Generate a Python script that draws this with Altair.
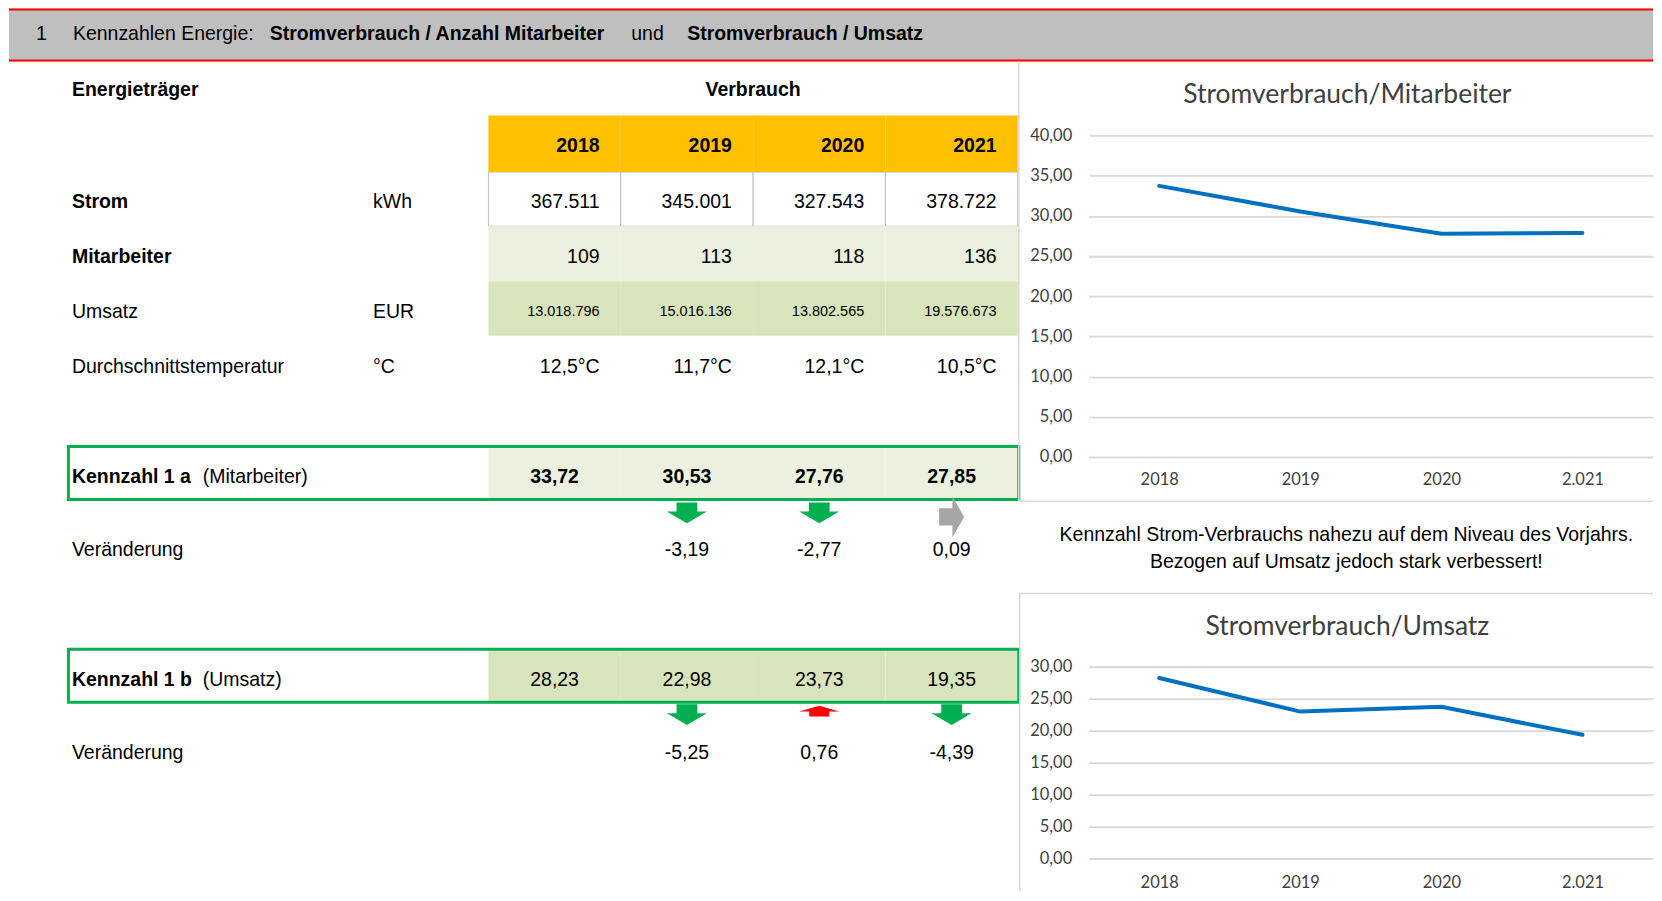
import altair as alt
import pandas as pd

# ---------------- data ----------------
years = ["2018", "2019", "2020", "2021"]
axis_years = ["2018", "2019", "2020", "2.021"]
strom_kwh = [367511, 345001, 327543, 378722]
mitarbeiter = [109, 113, 118, 136]
umsatz_eur = [13018796, 15016136, 13802565, 19576673]
temperatur = [12.5, 11.7, 12.1, 10.5]
kennzahl_1a = [33.72, 30.53, 27.76, 27.85]
kennzahl_1b = [28.23, 22.98, 23.73, 19.35]
veraenderung_1a = [None, -3.19, -2.77, 0.09]
veraenderung_1b = [None, -5.25, 0.76, -4.39]
y_ticks_1a = [0, 5, 10, 15, 20, 25, 30, 35, 40]
y_ticks_1b = [0, 5, 10, 15, 20, 25, 30]

header_parts = ["1", "Kennzahlen Energie:", "Stromverbrauch / Anzahl Mitarbeiter",
                "und", "Stromverbrauch / Umsatz"]
row_labels = ["Strom", "Mitarbeiter", "Umsatz", "Durchschnittstemperatur"]
row_units = ["kWh", "", "EUR", "°C"]
note_lines = ["Kennzahl Strom-Verbrauchs nahezu auf dem Niveau des Vorjahrs.",
              "Bezogen auf Umsatz jedoch stark verbessert!"]
chart_titles = ["Stromverbrauch/Mitarbeiter", "Stromverbrauch/Umsatz"]

# ---------------- styles ----------------
ARIAL = "Liberation Sans"
CAL = "Lato"
FS = 19.5
GREEN = "#00B050"
LIGHT1 = "#EBF1DE"
LIGHT2 = "#D8E4BC"
FRAME = "#D9D9D9"
ONE = pd.DataFrame({"k": [0]})


def de_int(v):
    return f"{v:,}".replace(",", ".")


def de_dec(v, n=2):
    return f"{v:.{n}f}".replace(".", ",")


def txt(text, x, y, size=FS, bold=False, align="left", font=ARIAL, color="#000000"):
    return alt.Chart(ONE).mark_text(
        text=text, align=align, baseline="middle", font=font, fontSize=size,
        fontWeight="bold" if bold else "normal", color=color
    ).encode(x=alt.value(x), y=alt.value(y))


def hrule(x1, x2, y, color, w=1):
    return alt.Chart(ONE).mark_rule(color=color, strokeWidth=w).encode(
        x=alt.value(x1), x2=alt.value(x2), y=alt.value(y))


def vrule(x, y1, y2, color, w=1):
    return alt.Chart(ONE).mark_rule(color=color, strokeWidth=w).encode(
        x=alt.value(x), y=alt.value(y1), y2=alt.value(y2))


def box(x1, x2, y1, y2, fill=None, stroke=None, w=1):
    kw = {}
    if fill is not None:
        kw["fill"] = fill
    else:
        kw["fillOpacity"] = 0
        kw["fill"] = "white"
    if stroke is not None:
        kw["stroke"] = stroke
        kw["strokeWidth"] = w
    return alt.Chart(ONE).mark_rect(**kw).encode(
        x=alt.value(x1), x2=alt.value(x2), y=alt.value(y1), y2=alt.value(y2))


# ---------------- header ----------------
HW, HH = 1646, 53
header_x = [27, 64, 261, 623, 679]
header_bold = [False, False, True, False, True]
header = alt.layer(
    box(0, HW, 0, HH, fill="#BFBFBF"),
    hrule(0, HW, 1, "#FF0000", 2),
    hrule(0, HW, HH - 1, "#FF0000", 2),
    *[txt(t, x, 25.5, bold=b) for t, x, b in zip(header_parts, header_x, header_bold)]
).properties(width=HW, height=HH)

# ---------------- table ----------------
XS = alt.Scale(domain=years, range=[480, 1010], paddingInner=0, paddingOuter=0)


def cells(y1, y2, fill, stroke=None):
    kw = dict(fill=fill)
    if stroke:
        kw.update(stroke=stroke, strokeWidth=1)
    return alt.Chart(pd.DataFrame({"year": years})).mark_rect(**kw).encode(
        x=alt.X("year:N", scale=XS, axis=None), y=alt.value(y1), y2=alt.value(y2))


def row_text(labels, y, pos=0.84, align="right", bold=False, size=FS):
    df = pd.DataFrame({"year": years, "label": labels})
    df = df[df["label"].notna()]
    return alt.Chart(df).mark_text(
        align=align, baseline="middle", font=ARIAL, fontSize=size,
        fontWeight="bold" if bold else "normal", color="#000000"
    ).encode(x=alt.X("year:N", scale=XS, axis=None, bandPosition=pos),
             y=alt.value(y), text="label:N")


ARROWS = {
    "down": ("M-0.52,-0.52 L0.52,-0.52 L0.52,-0.07 L1,-0.07 L0,0.52 L-1,-0.07 L-0.52,-0.07 Z",
             1600, GREEN, 0),
    "up": ("M0,-0.27 L1,0.02 L0.5,0.02 L0.5,0.27 L-0.5,0.27 L-0.5,0.02 L-1,0.02 Z",
           1600, "#FF0000", -3.5),
    "right": ("M-0.61,-0.42 L0.04,-0.42 L0.04,-1 L0.61,0 L0.04,1 L0.04,0.42 L-0.61,0.42 Z",
              1681, "#A6A6A6", 4),
}


def arrow_dir(v):
    if v < 0:
        return "down"
    return "up" if v >= 0.5 else "right"


def arrows(changes, y):
    df = pd.DataFrame({"year": years, "chg": changes})
    df = df[df["chg"].notna()].copy()
    df["dir"] = [arrow_dir(v) for v in df["chg"]]
    layers = []
    for d, (path, size, color, dy) in ARROWS.items():
        if (df["dir"] == d).any():
            layers.append(
                alt.Chart(df).transform_filter(alt.datum.dir == d).mark_point(
                    shape=path, size=size, filled=True, fill=color, strokeWidth=0, opacity=1
                ).encode(x=alt.X("year:N", scale=XS, axis=None, bandPosition=0.5),
                         y=alt.value(y + dy)))
    return layers


LX, UX = 63, 364.5
row_y = [140.5, 195.5, 250.5, 306]
row_bold = [True, True, False, False]
K1A_Y, V1_Y, K1B_Y, V2_Y = 416.5, 489.5, 618.8, 692.5

table = alt.layer(
    cells(110.7, 165, "white", stroke="#BFBFBF"),
    cells(54, 110.7, "#FFC000"),
    cells(165, 220, LIGHT1),
    cells(220, 274.7, LIGHT2),
    cells(385, 439, LIGHT1),
    box(59.5, 1011, 385.5, 438.5, stroke=GREEN, w=3),
    cells(588, 642, LIGHT2),
    box(59.5, 1011, 588.5, 641.5, stroke=GREEN, w=3),
    *arrows(veraenderung_1a, 452),
    *arrows(veraenderung_1b, 654),
    txt("Energieträger", LX, 29, bold=True),
    txt("Verbrauch", 745, 29, bold=True, align="center"),
    row_text(years, 84.5, bold=True),
    *[txt(l, LX, y, bold=b) for l, y, b in zip(row_labels, row_y, row_bold)],
    *[txt(u, UX, y) for u, y in zip(row_units, row_y) if u],
    row_text([de_int(v) for v in strom_kwh], row_y[0]),
    row_text([str(v) for v in mitarbeiter], row_y[1]),
    row_text([de_int(v) for v in umsatz_eur], row_y[2], size=14.5),
    row_text([de_dec(v, 1) + "°C" for v in temperatur], row_y[3]),
    txt("Kennzahl 1 a", LX, K1A_Y, bold=True),
    txt("(Mitarbeiter)", 194, K1A_Y),
    row_text([de_dec(v) for v in kennzahl_1a], K1A_Y, pos=0.5, align="center", bold=True),
    txt("Veränderung", LX, V1_Y),
    row_text([None if v is None else de_dec(v) for v in veraenderung_1a], V1_Y,
             pos=0.5, align="center"),
    txt("Kennzahl 1 b", LX, K1B_Y, bold=True),
    txt("(Umsatz)", 194, K1B_Y),
    row_text([de_dec(v) for v in kennzahl_1b], K1B_Y, pos=0.5, align="center"),
    txt("Veränderung", LX, V2_Y),
    row_text([None if v is None else de_dec(v) for v in veraenderung_1b], V2_Y,
             pos=0.5, align="center"),
).properties(width=1012, height=832)

# ---------------- right column ----------------
RW = 565
LBL = "replace(format(datum.value, '.2f'), '.', ',')"
AXC = "#404040"


def line_layer(values, ticks, xpad):
    df = pd.DataFrame({"jahr": axis_years, "wert": values})
    return alt.Chart(df).mark_line(color="#0070C0", strokeWidth=4, strokeCap="round").encode(
        x=alt.X("jahr:N", sort=axis_years, scale=alt.Scale(type="point", padding=0.5),
                axis=alt.Axis(title=None, labelAngle=0, domain=False, ticks=False,
                              labelFont=CAL, labelFontSize=16.5, labelColor=AXC,
                              labelPadding=xpad)),
        y=alt.Y("wert:Q", scale=alt.Scale(domain=[ticks[0], ticks[-1]], nice=False),
                axis=alt.Axis(title=None, values=ticks, domain=False, ticks=False,
                              grid=True, gridColor=FRAME, gridWidth=1.8,
                              labelExpr=LBL, labelFont=CAL, labelFontSize=16.5,
                              labelColor=AXC, labelPadding=17)),
    )


spacer = alt.Chart(ONE).mark_text(text=" ").encode(
    x=alt.value(0), y=alt.value(0)).properties(width=RW, height=74)

c1 = alt.layer(
    vrule(-70, -74, 366.4, FRAME, 1.5),
    hrule(-70, RW, 366.4, FRAME, 1.5),
    txt(chart_titles[0], 259, -40, size=26.5, font=CAL, align="center", color=AXC),
    line_layer(kennzahl_1a, y_ticks_1a, 15),
).properties(width=RW, height=322)

note = alt.layer(
    txt(note_lines[0], 258, 78.5, align="center"),
    txt(note_lines[1], 258, 104.7, align="center"),
).properties(width=RW, height=210)

c2 = alt.layer(
    hrule(-70, RW, -73.3, FRAME, 1.5),
    vrule(-69, -73.3, 225, FRAME, 1.5),
    txt(chart_titles[1], 259, -40, size=26.5, font=CAL, align="center", color=AXC),
    line_layer(kennzahl_1b, y_ticks_1b, 16.5),
).properties(width=RW, height=192)

right = alt.vconcat(spacer, c1, note, c2, spacing=0, bounds="flush")
body = alt.hconcat(table, right, spacing=69, bounds="flush")

chart = alt.vconcat(header, body, spacing=0, bounds="flush").properties(
    padding=0, background="white"
).configure_view(strokeWidth=0)

chart.save("out.html", embed_options={"renderer": "svg", "actions": False})
